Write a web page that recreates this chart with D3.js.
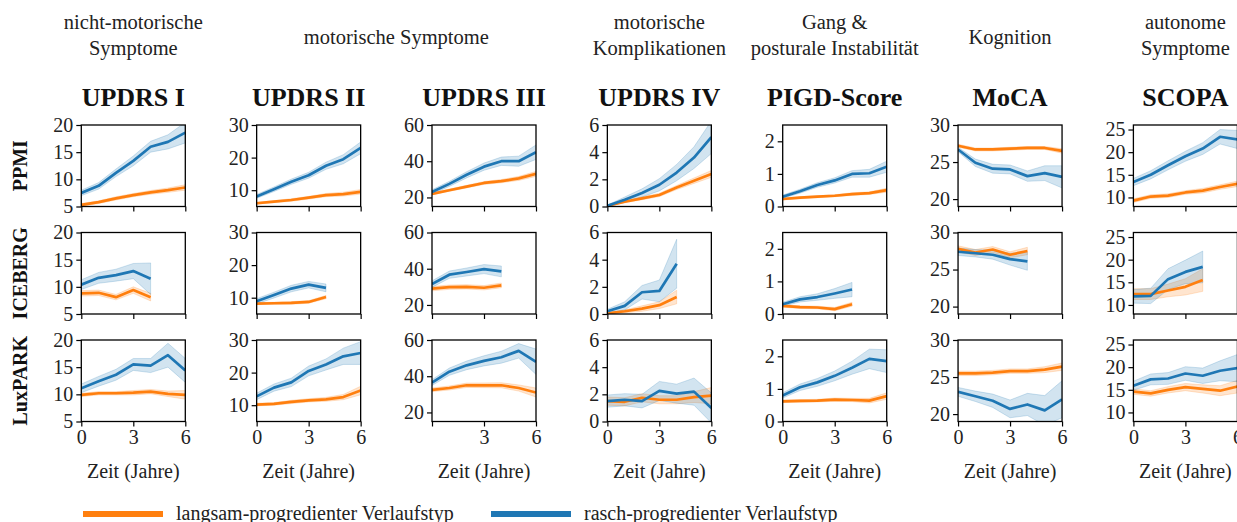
<!DOCTYPE html>
<html>
<head>
<meta charset="utf-8">
<script src="https://cdn.jsdelivr.net/npm/d3@7"></script>
<style>
  body { margin: 0; background: #fff; }
  .tick text { font-family: "Liberation Serif", serif; font-size: 20px; fill: #222; }
  .domain { display: none; }
</style>
</head>
<body>
<div id="chart"></div>
<script>
// Data: years and per-cohort means / CI half widths (slow = orange, fast = blue)
var years = [0, 1, 2, 3, 4, 5, 6];
var icebergYears = [0, 1, 2, 3, 4];
var scoreNames = ['UPDRS I', 'UPDRS II', 'UPDRS III', 'UPDRS IV', 'PIGD-Score', 'MoCA', 'SCOPA'];
var cohortNames = ['PPMI', 'ICEBERG', 'LuxPARK'];
var groupLabels = [
    {text: ['nicht-motorische', 'Symptome'], cols: [0]},
    {text: ['motorische Symptome'], cols: [1, 2]},
    {text: ['motorische', 'Komplikationen'], cols: [3]},
    {text: ['Gang &', 'posturale Instabilität'], cols: [4]},
    {text: ['Kognition'], cols: [5]},
    {text: ['autonome', 'Symptome'], cols: [6]}
];
var yDomains = [[5, 20], [5, 30], [15, 60], [0, 6], [0, 2.5], [19, 30], [8, 26]];
var yTicks = [[5, 10, 15, 20], [10, 20, 30], [20, 40, 60], [0, 2, 4, 6], [0, 1, 2], [20, 25, 30], [10, 15, 20, 25]];
var xTicks = [0, 3, 6];
var legendLabels = ['langsam-progredienter Verlaufstyp', 'rasch-progredienter Verlaufstyp'];

var ppmiSlow = [
    [5.3, 5.8, 6.5, 7.1, 7.6, 8.0, 8.5],
    [6.0, 6.5, 7.0, 7.7, 8.5, 8.8, 9.5],
    [22, 24, 26, 28, 29, 30.5, 33],
    [0.05, 0.35, 0.6, 0.85, 1.4, 1.9, 2.4],
    [0.23, 0.27, 0.3, 0.33, 0.38, 0.41, 0.5],
    [27.2, 26.7, 26.7, 26.8, 26.9, 26.9, 26.5],
    [9.3, 10.2, 10.4, 11.1, 11.5, 12.3, 13.0]
];
var ppmiSlowCI = [
    [0.25, 0.25, 0.3, 0.3, 0.35, 0.4, 0.5],
    [0.3, 0.3, 0.4, 0.4, 0.5, 0.6, 0.7],
    [0.6, 0.6, 0.7, 0.8, 0.9, 1.1, 1.4],
    [0.03, 0.08, 0.1, 0.12, 0.15, 0.2, 0.25],
    [0.03, 0.03, 0.03, 0.03, 0.04, 0.04, 0.06],
    [0.2, 0.2, 0.2, 0.2, 0.2, 0.2, 0.3],
    [0.4, 0.4, 0.4, 0.4, 0.5, 0.5, 0.6]
];
var ppmiFast = [
    [7.5, 8.8, 11.2, 13.4, 16.0, 16.9, 18.6],
    [8.1, 10.3, 12.6, 14.6, 17.5, 19.5, 23],
    [23, 27.5, 32.5, 37, 40, 40, 45],
    [0.05, 0.5, 1.0, 1.6, 2.5, 3.6, 5.1],
    [0.3, 0.47, 0.66, 0.8, 1.0, 1.02, 1.22],
    [26.7, 24.9, 24.1, 24.0, 23.1, 23.5, 23.0],
    [13.4, 15.0, 17.1, 19.1, 20.8, 23.4, 22.8]
];
var ppmiFastCI = [
    [0.5, 0.6, 0.7, 0.9, 1.0, 1.3, 1.9],
    [0.6, 0.7, 0.8, 0.9, 1.1, 1.4, 1.8],
    [1.2, 1.4, 1.7, 2.0, 2.3, 2.8, 4.0],
    [0.05, 0.2, 0.3, 0.45, 0.6, 0.8, 1.2],
    [0.05, 0.06, 0.07, 0.08, 0.1, 0.12, 0.17],
    [0.3, 0.5, 0.6, 0.6, 0.7, 1.0, 1.5],
    [0.8, 0.9, 1.0, 1.1, 1.3, 1.6, 2.0]
];

var icebergSlow = [
    [8.8, 8.9, 8.1, 9.4, 8.1],
    [8.2, 8.3, 8.4, 8.7, 10.2],
    [29, 29.8, 30, 29.5, 30.8],
    [0.05, 0.2, 0.4, 0.65, 1.25],
    [0.25, 0.21, 0.2, 0.15, 0.3],
    [27.8, 27.3, 27.7, 27.0, 27.5],
    [12.4, 12.4, 13.2, 14.0, 15.5]
];
var icebergSlowCI = [
    [0.5, 0.5, 0.5, 0.6, 0.7],
    [0.3, 0.3, 0.4, 0.4, 0.5],
    [1.2, 1.2, 1.2, 1.2, 1.3],
    [0.05, 0.1, 0.2, 0.25, 0.5],
    [0.04, 0.04, 0.04, 0.05, 0.06],
    [0.4, 0.4, 0.4, 0.4, 0.5],
    [1.2, 1.2, 1.4, 1.8, 2.5]
];
var icebergFast = [
    [10.4, 11.65, 12.15, 12.9, 11.5],
    [8.9, 10.8, 12.8, 14.0, 13.0],
    [31.5, 36.7, 38.2, 39.8, 38.5],
    [0.2, 0.6, 1.6, 1.7, 3.7],
    [0.3, 0.45, 0.52, 0.63, 0.75],
    [27.4, 27.2, 27.0, 26.4, 26.1],
    [11.9, 12.0, 15.7, 17.3, 18.4]
];
var icebergFastCI = [
    [0.9, 1.0, 1.1, 1.4, 2.9],
    [0.8, 0.9, 1.0, 1.0, 1.2],
    [1.8, 2.0, 2.2, 2.5, 3.0],
    [0.15, 0.3, 0.5, 0.8, 1.8],
    [0.06, 0.08, 0.1, 0.15, 0.22],
    [0.5, 0.5, 0.6, 0.8, 1.2],
    [1.5, 1.7, 2.3, 2.6, 3.5]
];

var luxparkSlow = [
    [9.9, 10.2, 10.2, 10.3, 10.5, 10.1, 9.9],
    [10.2, 10.4, 11.0, 11.5, 11.8, 12.5, 14.5],
    [32.5, 33.5, 35, 35, 35, 33.5, 31],
    [1.5, 1.45, 1.75, 1.6, 1.6, 1.8, 1.9],
    [0.62, 0.63, 0.64, 0.67, 0.66, 0.64, 0.78],
    [25.5, 25.5, 25.6, 25.8, 25.8, 26.0, 26.4],
    [14.6, 14.2, 15.0, 15.6, 15.2, 14.8, 15.7]
];
var luxparkSlowCI = [
    [0.3, 0.3, 0.3, 0.4, 0.4, 0.5, 0.8],
    [0.4, 0.4, 0.5, 0.5, 0.6, 0.8, 1.3],
    [1.0, 1.1, 1.2, 1.3, 1.4, 1.7, 2.5],
    [0.3, 0.3, 0.3, 0.3, 0.3, 0.4, 0.6],
    [0.04, 0.04, 0.04, 0.05, 0.05, 0.07, 0.1],
    [0.3, 0.3, 0.3, 0.3, 0.3, 0.4, 0.5],
    [0.6, 0.6, 0.7, 0.8, 0.9, 1.1, 1.4]
];
var luxparkFast = [
    [11.1, 12.4, 13.6, 15.5, 15.3, 17.2, 14.4],
    [12.7, 15.4, 17.0, 20.5, 22.5, 25.0, 26.0],
    [36.5, 42.5, 46, 48.5, 50.5, 54, 48],
    [1.5, 1.6, 1.5, 2.25, 2.05, 2.2, 1.0],
    [0.8, 1.05, 1.2, 1.4, 1.65, 1.92, 1.85],
    [23.0, 22.4, 21.8, 20.7, 21.3, 20.5, 22.0],
    [15.9, 17.3, 17.5, 18.6, 18.1, 19.2, 19.8]
];
var luxparkFastCI = [
    [0.8, 0.9, 1.0, 1.1, 1.3, 2.2, 2.2],
    [1.0, 1.1, 1.3, 1.5, 1.7, 2.5, 3.5],
    [1.6, 2.0, 2.4, 2.8, 3.3, 4.0, 7.0],
    [0.45, 0.45, 0.5, 0.7, 0.7, 1.0, 1.1],
    [0.08, 0.1, 0.12, 0.15, 0.2, 0.3, 0.35],
    [0.6, 0.7, 0.9, 1.2, 1.5, 2.0, 2.5],
    [1.0, 1.2, 1.3, 1.5, 1.7, 2.2, 3.0]
];

var cohorts = [
    {years: years, slow: ppmiSlow, slowCI: ppmiSlowCI, fast: ppmiFast, fastCI: ppmiFastCI},
    {years: icebergYears, slow: icebergSlow, slowCI: icebergSlowCI, fast: icebergFast, fastCI: icebergFastCI},
    {years: years, slow: luxparkSlow, slowCI: luxparkSlowCI, fast: luxparkFast, fastCI: luxparkFastCI}
];

var orange = '#ff7f0e';
var blue = '#1f77b4';
var serif = '"Liberation Serif", "Times New Roman", serif';

// Setup SVG
var svgWidth = 1237;
var svgHeight = 522;
var panelLeft = 81.3;
var panelStep = 175.35;
var panelWidth = 104;
var panelTop = 125;
var rowStep = 107.5;
var panelHeight = 81.5;

var svg = d3.select('#chart')
    .append('svg')
    .attr('width', svgWidth)
    .attr('height', svgHeight)
    .style('display', 'block');

var xScale = d3.scaleLinear().domain([0, 6]).range([0, panelWidth]);

// Group headings and score titles
groupLabels.forEach(function(g) {
    var cx = d3.mean(g.cols, c => panelLeft + panelStep * c + panelWidth / 2);
    var startY = g.text.length === 2 ? 29 : 44;
    var t = svg.append('text')
        .attr('text-anchor', 'middle')
        .style('font-family', serif)
        .style('font-size', '20.5px')
        .attr('fill', '#222');
    g.text.forEach(function(line, i) {
        t.append('tspan')
            .attr('x', cx)
            .attr('y', startY + i * 25.5)
            .text(line);
    });
});

scoreNames.forEach(function(name, c) {
    svg.append('text')
        .attr('x', panelLeft + panelStep * c + panelWidth / 2)
        .attr('y', 106)
        .attr('text-anchor', 'middle')
        .style('font-family', serif)
        .style('font-weight', 'bold')
        .style('font-size', '26px')
        .attr('fill', '#111')
        .text(name);
});

// Cohort labels
cohortNames.forEach(function(name, r) {
    var cy = panelTop + rowStep * r + panelHeight / 2;
    svg.append('text')
        .attr('transform', `translate(27, ${cy}) rotate(-90)`)
        .attr('text-anchor', 'middle')
        .style('font-family', serif)
        .style('font-weight', 'bold')
        .style('font-size', '20px')
        .attr('fill', '#111')
        .text(name);
});

// Panels
cohorts.forEach(function(cohort, r) {
    scoreNames.forEach(function(name, c) {
        var g = svg.append('g')
            .attr('transform', `translate(${panelLeft + panelStep * c}, ${panelTop + rowStep * r})`);
        var yScale = d3.scaleLinear().domain(yDomains[c]).range([panelHeight, 0]);
        var clipId = `clip-${r}-${c}`;
        g.append('clipPath').attr('id', clipId)
            .append('rect').attr('width', panelWidth).attr('height', panelHeight);

        var plot = g.append('g').attr('clip-path', `url(#${clipId})`);
        var series = [
            {mean: cohort.slow[c], ci: cohort.slowCI[c], color: orange},
            {mean: cohort.fast[c], ci: cohort.fastCI[c], color: blue}
        ];
        series.forEach(function(s) {
            var pts = cohort.years.map((yr, i) => ({x: yr, y: s.mean[i], ci: s.ci[i]}));
            var area = d3.area()
                .x(d => xScale(d.x))
                .y0(d => yScale(d.y - d.ci))
                .y1(d => yScale(d.y + d.ci));
            plot.append('path')
                .datum(pts)
                .attr('d', area)
                .attr('fill', s.color)
                .attr('fill-opacity', 0.2)
                .attr('stroke', s.color)
                .attr('stroke-opacity', 0.2)
                .attr('stroke-width', 1);
        });
        series.forEach(function(s) {
            var pts = cohort.years.map((yr, i) => ({x: yr, y: s.mean[i]}));
            var line = d3.line().x(d => xScale(d.x)).y(d => yScale(d.y));
            plot.append('path')
                .datum(pts)
                .attr('d', line)
                .attr('fill', 'none')
                .attr('stroke', s.color)
                .attr('stroke-width', 2.7)
                .attr('stroke-linejoin', 'round');
        });

        // Axes
        var bottomAxis = d3.axisBottom(xScale).tickValues(xTicks).tickSize(5).tickPadding(3);
        if (r === 2) {
            bottomAxis.tickFormat(d => (c === 2 && d === 0) ? '' : String(d));
        } else {
            bottomAxis.tickFormat('');
        }
        var xAxis = g.append('g')
            .attr('transform', `translate(0, ${panelHeight})`)
            .call(bottomAxis);
        var leftAxis = d3.axisLeft(yScale).tickValues(yTicks[c]).tickSize(5).tickPadding(3)
            .tickFormat(d => String(d));
        var yAxis = g.append('g').call(leftAxis);
        g.selectAll('.tick line').attr('stroke', '#000').attr('stroke-width', 1.2);

        g.append('rect')
            .attr('width', panelWidth)
            .attr('height', panelHeight)
            .attr('fill', 'none')
            .attr('stroke', '#000')
            .attr('stroke-width', 1.3);

        if (r === 2) {
            g.append('text')
                .attr('x', panelWidth / 2)
                .attr('y', panelHeight + 56)
                .attr('text-anchor', 'middle')
                .style('font-family', serif)
                .style('font-size', '20px')
                .attr('fill', '#222')
                .text('Zeit (Jahre)');
        }
    });
});

// Legend
var legendItems = [{x: 83, color: orange}, {x: 491, color: blue}];
legendItems.forEach(function(item, i) {
    svg.append('line')
        .attr('x1', item.x).attr('x2', item.x + 80)
        .attr('y1', 514).attr('y2', 514)
        .attr('stroke', item.color)
        .attr('stroke-width', 6);
    svg.append('text')
        .attr('x', item.x + 93)
        .attr('y', 520)
        .style('font-family', serif)
        .style('font-size', '20px')
        .attr('fill', '#222')
        .text(legendLabels[i]);
});
</script>
</body>
</html>
